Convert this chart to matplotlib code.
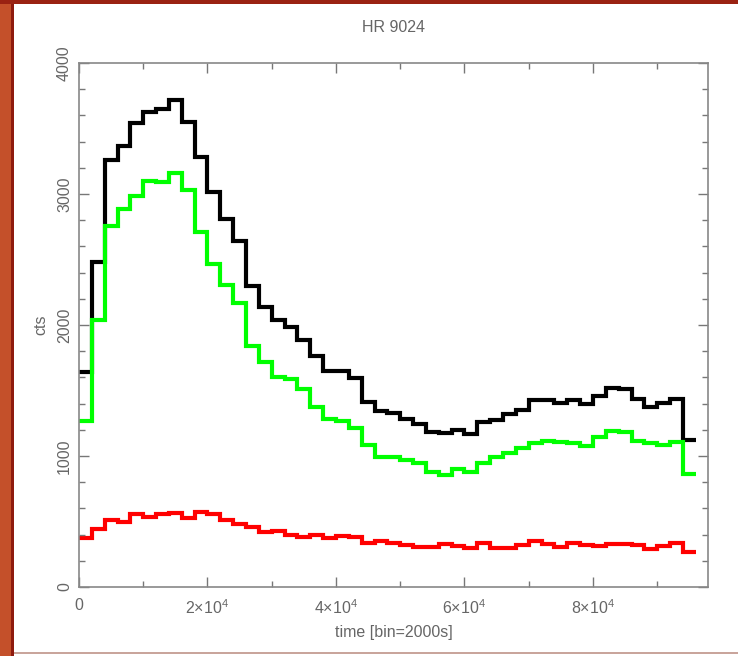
import numpy as np
import matplotlib.pyplot as plt
from matplotlib.patches import Rectangle
from matplotlib.ticker import MultipleLocator, FuncFormatter

plt.rcParams['font.family'] = ['Liberation Sans', 'DejaVu Sans']
plt.rcParams['mathtext.fontset'] = 'custom'
plt.rcParams['mathtext.rm'] = 'Liberation Sans'
plt.rcParams['mathtext.it'] = 'Liberation Sans'

# light curve of HR 9024, bins of 2000 s from 0 to 96000 s
bin_width = 2000
n_bins = 48

total = [1640, 2483, 3260, 3369, 3540, 3629, 3649, 3718, 3547, 3285,
         3018, 2809, 2638, 2298, 2135, 2038, 1982, 1885, 1766, 1649,
         1651, 1593, 1415, 1346, 1326, 1285, 1244, 1186, 1178, 1198,
         1168, 1262, 1275, 1318, 1351, 1430, 1424, 1402, 1427, 1397,
         1458, 1517, 1511, 1433, 1372, 1402, 1433, 1122]

hard = [1270, 2038, 2756, 2885, 2985, 3099, 3089, 3158, 3031, 2712,
        2466, 2305, 2166, 1842, 1720, 1606, 1588, 1511, 1372, 1280,
        1270, 1211, 1084, 990, 990, 970, 944, 880, 855, 899,
        880, 944, 990, 1025, 1058, 1097, 1115, 1109, 1097, 1076,
        1148, 1191, 1186, 1115, 1097, 1084, 1104, 863]

soft = [372, 443, 511, 494, 555, 532, 555, 567, 524, 575,
        555, 511, 478, 455, 422, 430, 397, 379, 397, 372,
        389, 384, 333, 353, 338, 321, 303, 303, 328, 313,
        295, 333, 295, 295, 321, 353, 328, 303, 338, 321,
        313, 328, 328, 321, 288, 313, 333, 265]

edges = np.arange(n_bins + 1) * bin_width

fig = plt.figure(figsize=(7.38, 6.56), dpi=100)
fig.patch.set_facecolor('white')

# frame of the slide around the plot
fig.patches.append(Rectangle((0, 0), 11 / 738, 1, transform=fig.transFigure,
                             facecolor='#c4502a', edgecolor='none', zorder=-5))
fig.patches.append(Rectangle((11 / 738, 0), 3 / 738, 1, transform=fig.transFigure,
                             facecolor='#8e1a0e', edgecolor='none', zorder=-4))
fig.patches.append(Rectangle((0, 1 - 4 / 656), 1, 4 / 656, transform=fig.transFigure,
                             facecolor='#9a2212', edgecolor='none', zorder=-4))
fig.patches.append(Rectangle((14 / 738, 2 / 656), 1, 2 / 656, transform=fig.transFigure,
                             facecolor='#c9a59c', edgecolor='none', zorder=-4))

ax = fig.add_axes([79 / 738, 1 - 587 / 656, 629 / 738, 524 / 656])

ax.stairs(total, edges, color='black', linewidth=3, baseline=None)
ax.stairs(hard, edges, color='#00ff00', linewidth=3, baseline=None)
ax.stairs(soft, edges, color='#ff0000', linewidth=3, baseline=None)

ax.set_xlim(0, 97900)
ax.set_ylim(0, 4000)

ax.xaxis.set_major_locator(MultipleLocator(20000))
ax.xaxis.set_minor_locator(MultipleLocator(10000))
ax.yaxis.set_major_locator(MultipleLocator(1000))
ax.yaxis.set_minor_locator(MultipleLocator(200))


def sci(v, pos):
    if v == 0:
        return '0'
    return r'$%d{\times}10^{4}$' % round(v / 1e4)


ax.xaxis.set_major_formatter(FuncFormatter(sci))

grey = '#666666'
for s in ax.spines.values():
    s.set_color('#888888')
    s.set_linewidth(1.2)
ax.tick_params(which='both', direction='in', top=True, right=True,
               color='#777777', labelcolor=grey, labelsize=11.5)
ax.tick_params(which='major', length=7, width=1)
ax.tick_params(which='minor', length=4, width=1)
ax.tick_params(axis='x', pad=8)
ax.tick_params(axis='y', pad=5)
for lab in ax.get_yticklabels():
    lab.set_rotation(90)
    lab.set_va('center')

ax.set_title('HR 9024', color=grey, fontsize=11.5, pad=22)
ax.set_xlabel('time [bin=2000s]', color=grey, fontsize=11.5, labelpad=6)
ax.set_ylabel('cts', color=grey, fontsize=11.5, labelpad=6)

fig.savefig('out.png', dpi=100)
